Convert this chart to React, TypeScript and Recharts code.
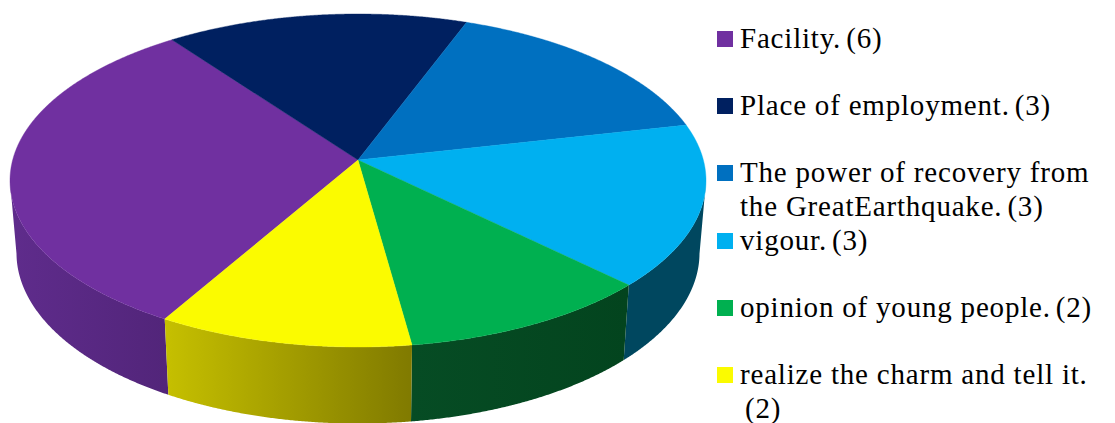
import React from 'react';
import { PieChart, Pie, Legend } from 'recharts';

const names = [
  'Facility.',
  'Place of employment.',
  'The power of recovery from\nthe GreatEarthquake.',
  'vigour.',
  'opinion of young people.',
  'realize the charm and tell it.\n',
];
const counts = [6, 3, 3, 3, 2, 2];
const topColors = ['#7030A0', '#002060', '#0070C0', '#00B0F0', '#00B050', '#FBFB00'];
const wallFrom = ['#5F2C8C', '#001A50', '#005A9C', '#00475F', '#064C24', '#C6C000'];
const wallTo = ['#52257A', '#001A50', '#005A9C', '#00475F', '#03441E', '#807A00'];
const legendTops = [21, 88, 155, 223, 290, 357];

const table = names.map((name, i) => ({
  name,
  count: counts[i],
  fill: topColors[i],
  wallFrom: wallFrom[i],
  wallTo: wallTo[i],
}));

// perspective of the disc: the pie centre is seen above the middle of the ellipse
const TILT = -0.123;
const TOP_RY = 166.5;
const BOTTOM = { cy: 253, rx: 341.5, ry: 170.5 };

const project = (deg: number) => {
  const rad = (deg * Math.PI) / 180;
  const x = Math.cos(rad);
  const y = -Math.sin(rad);
  const d = 1 + TILT * y;
  return { u: (x * Math.sqrt(1 - TILT * TILT)) / d, v: (y + TILT) / d };
};

const Slice3D = (props: any) => {
  const { cx, cy, outerRadius, startAngle, endAngle, index } = props;
  const row = props.payload ?? props;
  const steps = Math.ceil(Math.abs(endAngle - startAngle) * 4);
  const ring = Array.from({ length: steps + 1 }, (_, i) =>
    project(startAngle + ((endAngle - startAngle) * i) / steps),
  );
  const topPt = (p: { u: number; v: number }) =>
    `${(cx + outerRadius * p.u).toFixed(2)} ${(cy + TOP_RY * p.v).toFixed(2)}`;
  const lowPt = (p: { u: number; v: number }) =>
    `${(cx + BOTTOM.rx * p.u).toFixed(2)} ${(BOTTOM.cy + BOTTOM.ry * p.v).toFixed(2)}`;

  const front = ring.filter((p) => p.v >= 0);
  const wall =
    front.length > 1
      ? `M${front.map(topPt).join('L')}L${[...front].reverse().map(lowPt).join('L')}Z`
      : null;
  const xs = front.map((p) => cx + outerRadius * p.u);
  const top = `M${cx} ${cy + TOP_RY * TILT}L${ring.map(topPt).join('L')}Z`;

  return (
    <g>
      {wall && (
        <>
          <defs>
            <linearGradient
              id={`wall-${index}`}
              gradientUnits="userSpaceOnUse"
              x1={Math.min(...xs)}
              x2={Math.max(...xs)}
              y1={0}
              y2={0}
            >
              <stop offset="0%" stopColor={row.wallFrom} />
              <stop offset="100%" stopColor={row.wallTo} />
            </linearGradient>
          </defs>
          <path d={wall} fill={`url(#wall-${index})`} />
        </>
      )}
      <path d={top} fill={row.fill} stroke={row.fill} strokeWidth={0.4} />
    </g>
  );
};

const LegendList = () => (
  <div style={{ position: 'relative', width: 1115, height: 423 }}>
    {table.map((row, i) => {
      const lines = row.name.split('\n');
      return (
        <div key={row.name} style={{ position: 'absolute', left: 717, top: legendTops[i] }}>
          <span
            style={{
              position: 'absolute',
              left: 0,
              top: 10,
              width: 16,
              height: 16,
              background: row.fill,
            }}
          />
          <div
            style={{
              marginLeft: 23,
              whiteSpace: 'pre',
              fontFamily: '"Liberation Serif", serif',
              fontSize: 29,
              letterSpacing: 0.8,
              lineHeight: '34px',
              color: '#000',
            }}
          >
            {lines.map((line, j) => (
              <div key={j} style={{ height: 34 }}>
                {line}
                {j === lines.length - 1 && <span style={{ marginLeft: 5 }}>({row.count})</span>}
              </div>
            ))}
          </div>
        </div>
      );
    })}
  </div>
);

export default function App() {
  return (
    <div style={{ position: 'absolute', left: 0, top: 0 }}>
      <PieChart width={1115} height={423} margin={{ top: 0, right: 0, bottom: 0, left: 0 }}>
        <Pie
          data={table}
          dataKey="count"
          nameKey="name"
          cx={358}
          cy={180.5}
          innerRadius={0}
          outerRadius={348}
          startAngle={240}
          endAngle={-120}
          stroke="none"
          shape={Slice3D}
          isAnimationActive={false}
        />
        <Legend
          content={<LegendList />}
          wrapperStyle={{ position: 'absolute', left: 0, top: 0, width: 1115, height: 423 }}
        />
      </PieChart>
    </div>
  );
}
